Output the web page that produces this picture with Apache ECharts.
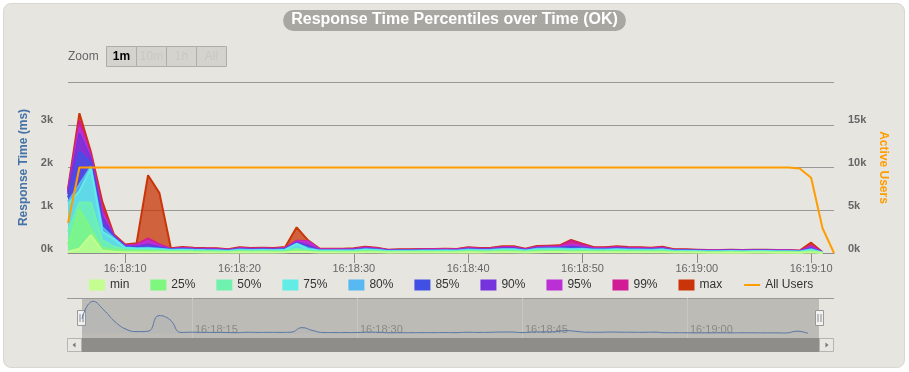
<!DOCTYPE html>
<html><head><meta charset="utf-8">
<script src="https://cdn.jsdelivr.net/npm/echarts@6/dist/echarts.min.js"></script>
<style>
html,body{margin:0;padding:0;background:#fff;}
#panel{position:absolute;left:3px;top:3px;width:900px;height:363px;background:#e6e5e0;border:1px solid #d8d7d2;border-radius:8px;}
#chart{position:absolute;left:0;top:0;width:909px;height:372px;}
</style></head><body>
<div id="panel"></div><div id="chart"></div>
<script>
// ---- data ----
const startTime = '16:18:05';
const pointCount = 68;
const seriesNames = ['min','25%','50%','75%','80%','85%','90%','95%','99%','max'];
const seriesColors = ['#c4fd90','#7ff77f','#6ff2ad','#61ede6','#58b8f1','#4150e4','#7433dc','#bb2fd6','#d21c96','#c93508'];
const usersName = 'All Users';
const usersColor = '#ff9d00';

const pMin = [30,100,420,50,30,20,20,20,20,15, 17,15,14,13,10,16,14,15,14,17, 30,25,12,12,12,13,18,15,9,10, 10,11,11,12,11,16,14,15,19,19, 12,20,21,22,15,18,16,16,19,17, 16,15,18,10,10,9,8,8,9,8, 9,9,8,8,7,15,2,null];
const p25 = [200,1020,550,120,80,50,45,45,40,30, 35,31,29,27,21,33,29,31,29,35, 60,40,25,25,25,27,37,31,20,21, 21,23,23,25,23,33,29,31,39,39, 25,41,43,45,35,40,33,33,39,35, 33,31,37,21,21,20,18,18,20,18, 20,20,18,18,14,30,4,null];
const p50 = [500,1180,1180,300,150,80,70,70,60,45, 49,44,41,38,30,46,41,44,41,49, 100,60,35,35,35,38,52,44,27,30, 30,33,33,35,33,46,41,44,55,55, 35,57,60,63,50,55,46,46,55,49, 46,44,52,30,30,27,25,25,27,25, 27,27,25,25,19,45,6,null];
const p75 = [1150,1450,1980,500,330,120,100,100,85,65, 70,62,58,55,43,66,58,62,58,70, 210,90,50,50,50,55,74,62,39,43, 43,47,47,50,47,66,58,62,78,78, 50,82,86,90,80,85,66,66,78,70, 66,62,74,43,43,39,35,35,39,35, 39,39,35,35,27,70,8,null];
const p80 = [1200,1600,2020,600,350,130,110,120,100,75, 84,75,70,66,52,80,70,75,70,84, 220,110,61,61,61,66,89,75,47,52, 52,56,56,60,56,80,70,75,94,94, 60,98,103,108,95,100,80,80,94,84, 80,75,89,52,52,47,42,42,47,42, 47,47,42,42,33,90,10,null];
const p85 = [1300,2370,2100,700,370,150,130,140,120,80, 91,81,76,72,56,86,76,81,76,91, 230,130,66,66,66,72,96,81,51,56, 56,61,61,65,61,86,76,81,101,101, 65,107,112,117,115,110,86,86,101,91, 86,81,96,56,56,51,46,46,51,46, 51,51,46,46,36,100,11,null];
const p90 = [1380,2800,2200,850,390,160,150,200,140,85, 100,90,84,79,62,96,84,90,84,100, 245,180,72,72,72,79,106,90,56,62, 62,68,68,72,68,96,84,90,112,112, 72,118,124,130,150,130,96,96,112,100, 96,90,106,62,62,56,50,50,56,50, 56,56,50,50,40,120,12,null];
const p95 = [1420,2950,2250,950,400,170,180,280,170,90, 110,100,94,88,70,105,94,100,94,110, 270,265,80,80,80,88,118,100,62,70, 70,75,75,80,75,105,94,100,125,125, 80,130,138,145,200,160,105,105,125,112, 105,100,118,70,70,62,56,56,62,56, 62,62,56,56,44,150,13,null];
const p99 = [1450,3100,2300,1050,410,180,200,340,200,100, 125,112,105,98,78,120,105,112,105,125, 285,280,90,90,90,98,132,112,70,78, 78,85,85,90,85,120,105,112,140,140, 90,148,155,165,285,200,120,120,140,125, 120,112,132,78,78,70,63,63,70,63, 70,70,63,63,50,180,14,null];
const pMax = [1500,3270,2370,1200,440,200,230,1820,1400,110, 140,125,117,110,86,133,117,125,117,140, 600,296,101,101,101,110,148,125,78,86, 86,94,94,100,94,133,117,125,156,156, 100,164,172,180,304,218,133,133,156,140, 133,125,148,86,86,78,70,70,78,70, 78,78,70,70,55,242,16,null];
const users = [3500,10000,10000,10000,10000,10000,10000,10000,10000,10000, 10000,10000,10000,10000,10000,10000,10000,10000,10000,10000, 10000,10000,10000,10000,10000,10000,10000,10000,10000,10000, 10000,10000,10000,10000,10000,10000,10000,10000,10000,10000, 10000,10000,10000,10000,10000,10000,10000,10000,10000,10000, 10000,10000,10000,10000,10000,10000,10000,10000,10000,10000, 10000,10000,10000,9990,9880,8800,2890,0];
const leftTicks = {min:0, max:4000, interval:1000};
const rightTicks = {min:0, max:20000, interval:5000};

const percentileData = [pMin,p25,p50,p75,p80,p85,p90,p95,p99,pMax];

// categories (one per second)
function pad(n){return (n<10?'0':'')+n;}
const sp = startTime.split(':').map(Number);
const startSec = sp[0]*3600+sp[1]*60+sp[2];
const categories = [];
for (let i=0;i<pointCount;i++){const s=startSec+i;categories.push(pad(Math.floor(s/3600))+':'+pad(Math.floor(s/60)%60)+':'+pad(s%60));}
const secOf = c => Number(c.split(':')[2]);

const FONT = 'Liberation Sans, Arial, sans-serif';
const chart = echarts.init(document.getElementById('chart'), null, {renderer:'canvas'});

const series = [];
for (let k=seriesNames.length-1;k>=0;k--){
  series.push({
    name: seriesNames[k], type:'line', xAxisIndex:0, yAxisIndex:0,
    data: percentileData[k], showSymbol:false, symbol:'none',
    color: seriesColors[k],
    lineStyle:{width:2, color:seriesColors[k]},
    areaStyle:{color:seriesColors[k], opacity:0.75},
    animation:false
  });
}
series.push({
  name: usersName, type:'line', xAxisIndex:0, yAxisIndex:1, data: users,
  symbol:'none', showSymbol:false, color: usersColor,
  lineStyle:{width:2,color:usersColor}, z:5, animation:false
});
series.push({
  name:'nav', type:'line', xAxisIndex:1, yAxisIndex:2, data:pMax, smooth:true,
  symbol:'none', showSymbol:false, lineStyle:{width:1,color:'#5a78a6'},
  areaStyle:{color:'#4572a7',opacity:0.05}, animation:false, silent:true
});

const legendData = seriesNames.map(n=>({name:n, icon:'rect'}));
legendData.push({name:usersName, itemStyle:{opacity:0}});

const btns = [['1m',106,true],['10m',136,false],['1h',166,false],['All',196,false]];
const graphics = [
  {type:'text', left:68, top:51, style:{text:'Zoom', fill:'#666', font:'12px '+FONT}},
];
btns.forEach(b=>{
  graphics.push({type:'rect', shape:{x:b[1]+0.5,y:46.5,width:30,height:20}, style:{fill:'#d4d3ce', stroke:'#aeadaa', lineWidth:1}});
  graphics.push({type:'text', x:b[1]+15.5, y:57, style:{text:b[0], fill:b[2]?'#000':'#c9c8c4', font:(b[2]?'bold ':'')+'12px '+FONT, textAlign:'center', textVerticalAlign:'middle'}});
});
// navigator frame / scrollbar
graphics.push({type:'line', shape:{x1:67,y1:298.5,x2:834,y2:298.5}, style:{stroke:'#999',lineWidth:1}});
graphics.push({type:'rect', shape:{x:81,y:338,width:739,height:14}, style:{fill:'#8f8d89'}});
graphics.push({type:'rect', shape:{x:67.5,y:338.5,width:14,height:13}, style:{fill:'#e8e7e2',stroke:'#b5b4b0',lineWidth:1}});
graphics.push({type:'polygon', shape:{points:[[75.5,342.5],[75.5,347.5],[72.5,345]]}, style:{fill:'#777'}});
graphics.push({type:'rect', shape:{x:819.5,y:338.5,width:14,height:13}, style:{fill:'#e8e7e2',stroke:'#b5b4b0',lineWidth:1}});
graphics.push({type:'polygon', shape:{points:[[825.5,342.5],[825.5,347.5],[828.5,345]]}, style:{fill:'#777'}});
[77.5,815.5].forEach(hx=>{
  graphics.push({type:'rect', shape:{x:hx,y:310.5,width:8,height:15}, style:{fill:'#f2f2f2',stroke:'#999',lineWidth:1}});
  graphics.push({type:'line', shape:{x1:hx+2.5,y1:314,x2:hx+2.5,y2:322}, style:{stroke:'#888',lineWidth:1}});
  graphics.push({type:'line', shape:{x1:hx+5.5,y1:314,x2:hx+5.5,y2:322}, style:{stroke:'#888',lineWidth:1}});
});

const kfmt = v => (v/1000)+'k';

chart.setOption({
  animation:false,
  textStyle:{fontFamily:FONT},
  title:{text:'Response Time Percentiles over Time (OK)', left:'center', top:10,
    backgroundColor:'#a8a7a1', borderRadius:10, padding:[2,8,3,8],
    textStyle:{color:'#fff', fontSize:16, fontWeight:'bold', fontFamily:FONT, lineHeight:16}},
  legend:{data:legendData, left:84, top:274, itemWidth:16, itemHeight:11, itemGap:21,
    textStyle:{fontSize:12, color:'#333', fontFamily:FONT}, selectedMode:false},
  grid:[
    {left:68, right:75, top:82, bottom:119, containLabel:false},
    {left:82, right:90, top:298, height:40, show:true, backgroundColor:'#bdbbb6', borderWidth:0}
  ],
  xAxis:[
    {type:'category', gridIndex:0, data:categories, boundaryGap:false,
      axisLine:{lineStyle:{color:'#8c8c8c',width:1}},
      axisTick:{interval:(i,v)=>secOf(v)%10===0, length:10, lineStyle:{color:'#8c8c8c'}},
      axisLabel:{interval:(i,v)=>secOf(v)%10===0, color:'#666', fontSize:11, margin:10, fontFamily:FONT},
      splitLine:{show:false}},
    {type:'category', gridIndex:1, data:categories, boundaryGap:false,
      axisLine:{show:false}, axisTick:{show:false},
      axisLabel:{interval:(i,v)=>secOf(v)%15===0, inside:true, align:'left', verticalAlign:'middle', margin:8, padding:[0,0,0,3], color:'#8a8984', fontSize:11, fontFamily:FONT},
      splitLine:{show:true, interval:(i,v)=>secOf(v)%15===0, lineStyle:{color:'#c9c7c2',width:1}}}
  ],
  yAxis:[
    {type:'value', gridIndex:0, min:leftTicks.min, max:leftTicks.max, interval:leftTicks.interval,
      name:'Response Time (ms)', nameLocation:'middle', nameGap:31,
      nameTextStyle:{color:'#4572a7', fontWeight:'bold', fontSize:12, fontFamily:FONT},
      axisLine:{show:false}, axisTick:{show:false},
      axisLabel:{formatter:kfmt, showMaxLabel:false, color:'#666', fontWeight:'bold', fontSize:11, margin:15, verticalAlign:'bottom', lineHeight:9, fontFamily:FONT},
      splitLine:{lineStyle:{color:'#999',width:1}}},
    {type:'value', gridIndex:0, position:'right', min:rightTicks.min, max:rightTicks.max, interval:rightTicks.interval,
      name:'Active Users', nameLocation:'middle', nameGap:43, nameRotate:-90,
      nameTextStyle:{color:'#ff9d00', fontWeight:'bold', fontSize:12, fontFamily:FONT},
      axisLine:{show:false}, axisTick:{show:false},
      axisLabel:{formatter:kfmt, showMaxLabel:false, color:'#666', fontWeight:'bold', fontSize:11, margin:14, verticalAlign:'bottom', lineHeight:9, fontFamily:FONT},
      splitLine:{show:false}},
    {type:'value', gridIndex:1, min:-450, max:3600, show:false, splitLine:{show:false}}
  ],
  graphic: graphics,
  series: series
});
</script></body></html>
